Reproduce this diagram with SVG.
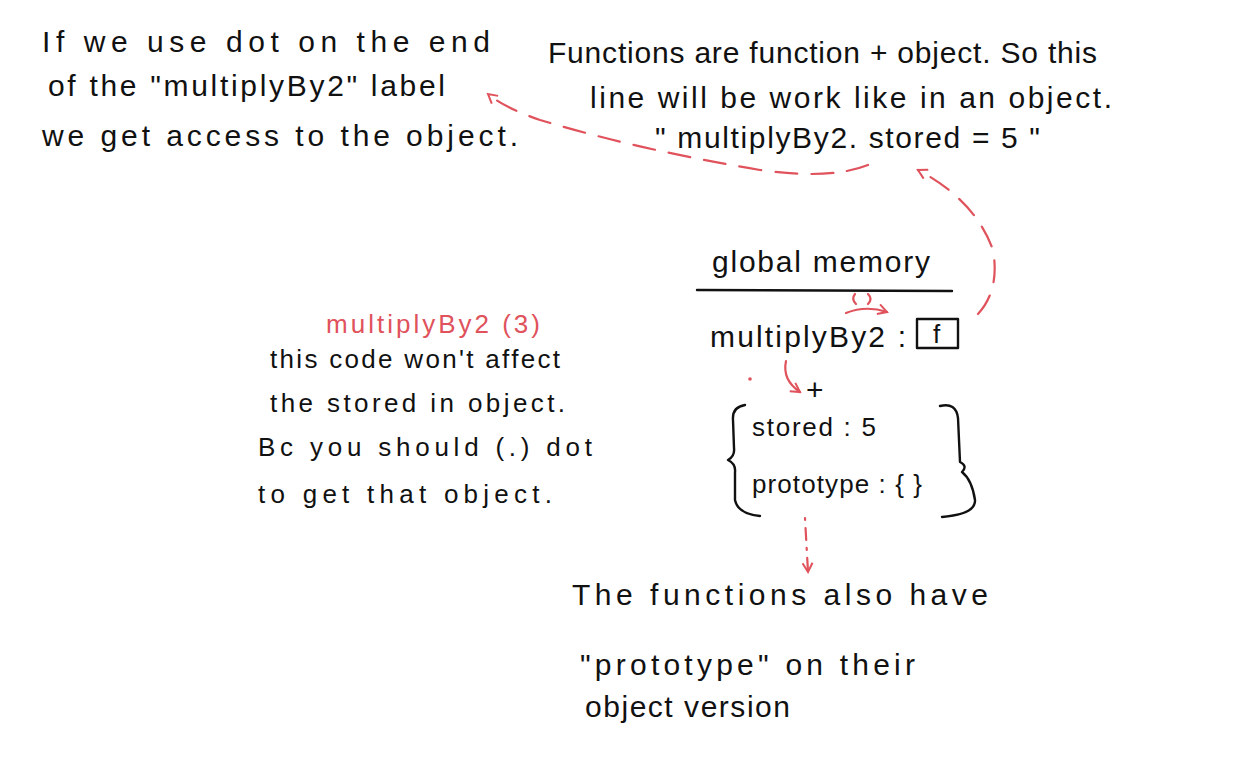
<svg xmlns="http://www.w3.org/2000/svg" width="1234" height="774" viewBox="0 0 1234 774">
<style>
.t{font-family:"Liberation Sans","DejaVu Sans",sans-serif;font-size:30px;fill:#111}
.s{font-size:26px}
.r{fill:#e0525c}
.ink{fill:none;stroke:#111;stroke-width:2.4;stroke-linecap:round;stroke-linejoin:round}
.red{fill:none;stroke:#e0525c;stroke-width:2.2;stroke-linecap:round;stroke-linejoin:round}
.dash{stroke-dasharray:22 14}
</style>
<defs>
<marker id="ah" viewBox="0 0 12 12" refX="10" refY="6" markerWidth="12" markerHeight="12" markerUnits="userSpaceOnUse" orient="auto">
<path d="M1,1 L10,6 L1,11" fill="none" stroke="#e0525c" stroke-width="2"/>
</marker>
</defs>
<rect width="1234" height="774" fill="#fff"/>

<g id="note-top-left">
<text class="t" x="42" y="52" textLength="448" lengthAdjust="spacing">If we use dot on the end</text>
<text class="t" x="48" y="96" textLength="397" lengthAdjust="spacing">of the "multiplyBy2" label</text>
<text class="t" x="42" y="146" textLength="476" lengthAdjust="spacing">we get access to the object.</text>
</g>

<g id="note-top-right">
<text class="t" x="548" y="63" textLength="549" lengthAdjust="spacing">Functions are function + object. So this</text>
<text class="t" x="590" y="108" textLength="522" lengthAdjust="spacing">line will be work like in an object.</text>
<text class="t" x="655" y="148" textLength="385" lengthAdjust="spacing">" multiplyBy2. stored = 5 "</text>
</g>

<g id="global-memory">
<text class="t" x="712" y="272" textLength="218" lengthAdjust="spacing">global memory</text>
<path class="ink" d="M697,290 L952,291"/>
<text class="t" x="710" y="347" textLength="196" lengthAdjust="spacing">multiplyBy2 :</text>
<rect class="ink" x="917" y="319" width="41" height="29"/>
<text class="t s" x="933" y="343">f</text>
<text class="t" x="806" y="400">+</text>
<path class="ink" d="M745,405 Q732,407 733,420 L734,448 Q735,456 728,460 Q736,464 735,472 L735,500 Q738,514 760,516"/>
<text class="t s" x="752" y="436" textLength="124" lengthAdjust="spacing">stored : 5</text>
<text class="t s" x="752" y="493" textLength="170" lengthAdjust="spacing">prototype : { }</text>
<path class="ink" d="M940,406 Q956,402 958,418 L960,462 Q968,466 962,472 Q972,480 975,500 Q976,514 942,517"/>
</g>

<g id="note-middle-left">
<text class="t s r" x="326" y="333" textLength="214" lengthAdjust="spacing">multiplyBy2 (3)</text>
<text class="t s" x="270" y="368" textLength="290" lengthAdjust="spacing">this code won't affect</text>
<text class="t s" x="270" y="412" textLength="295" lengthAdjust="spacing">the stored in object.</text>
<text class="t s" x="258" y="456" textLength="334" lengthAdjust="spacing">Bc you should (.) dot</text>
<text class="t s" x="258" y="503" textLength="294" lengthAdjust="spacing">to get that object.</text>
</g>

<g id="note-bottom">
<text class="t" x="572" y="605" textLength="416" lengthAdjust="spacing">The functions also have</text>
<text class="t" x="580" y="675" textLength="335" lengthAdjust="spacing">"prototype" on their</text>
<text class="t" x="585" y="717" textLength="205" lengthAdjust="spacing">object version</text>
</g>

<g id="connectors">
<path class="red dash" d="M868,165 Q830,180 760,170 Q640,150 540,120 Q505,108 488,94" marker-end="url(#ah)"/>
<path class="red dash" d="M978,314 Q1000,290 993,250 Q975,200 918,170" marker-end="url(#ah)"/>
<path class="red" d="M855,294 Q851,299 856,304 M868,294 Q873,299 868,304"/>
<path class="red" d="M846,313 Q866,305 887,312" marker-end="url(#ah)"/>
<circle cx="750" cy="379" r="1.8" fill="#e0525c"/>
<path class="red" d="M786,361 Q782,380 800,392" marker-end="url(#ah)"/>
<path class="red" d="M805,518 L808,572" stroke-dasharray="2 8 12 8" marker-end="url(#ah)"/>
</g>
</svg>
